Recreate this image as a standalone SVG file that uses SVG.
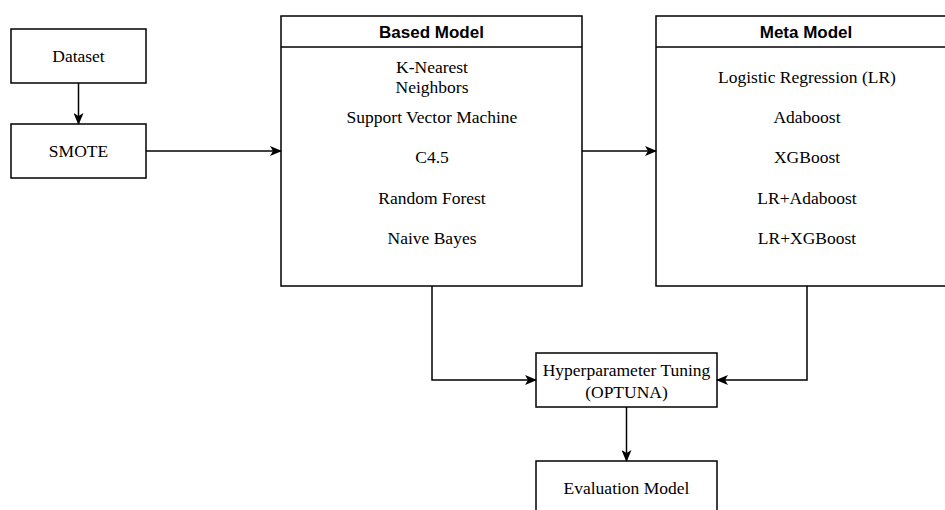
<svg xmlns="http://www.w3.org/2000/svg" width="945" height="510" viewBox="0 0 945 510">
<style>
.box{fill:#fff;stroke:#000;stroke-width:1.5}
.t{font-family:"Liberation Serif","Times New Roman",serif;font-size:17.5px;fill:#000;text-anchor:middle}
.h{font-family:"Liberation Sans",Arial,sans-serif;font-size:17px;font-weight:bold;fill:#000;text-anchor:middle}
.c{fill:none;stroke:#000;stroke-width:1.5}
</style>
<defs>
<marker id="arr" viewBox="0 0 12 10" refX="11" refY="5" markerWidth="12" markerHeight="10" markerUnits="userSpaceOnUse" orient="auto">
<path d="M0,0 L12,5 L0,10 L3,5 Z" fill="#000"/>
</marker>
</defs>
<rect width="945" height="510" fill="#fff"/>
<g id="dataset"><rect class="box" x="11" y="29" width="135" height="54"/><text class="t" x="78.5" y="62">Dataset</text></g>
<g id="smote"><rect class="box" x="11" y="124" width="135" height="54"/><text class="t" x="78.5" y="157">SMOTE</text></g>
<g id="based">
<rect class="box" x="281" y="16" width="301" height="270"/>
<line class="c" x1="281" y1="47" x2="582" y2="47"/>
<text class="h" x="431.5" y="38">Based Model</text>
<text class="t" x="432" y="73">K-Nearest</text>
<text class="t" x="432" y="93">Neighbors</text>
<text class="t" x="432" y="123">Support Vector Machine</text>
<text class="t" x="432" y="163">C4.5</text>
<text class="t" x="432" y="204">Random Forest</text>
<text class="t" x="432" y="244">Naive Bayes</text>
</g>
<g id="meta">
<rect class="box" x="656" y="16" width="302" height="270"/>
<line class="c" x1="656" y1="47" x2="958" y2="47"/>
<text class="h" x="806" y="38">Meta Model</text>
<text class="t" x="807" y="83">Logistic Regression (LR)</text>
<text class="t" x="807" y="123">Adaboost</text>
<text class="t" x="807" y="163">XGBoost</text>
<text class="t" x="807" y="204">LR+Adaboost</text>
<text class="t" x="807" y="244">LR+XGBoost</text>
</g>
<g id="hyper"><rect class="box" x="536" y="353" width="181" height="54"/><text class="t" x="626.5" y="376">Hyperparameter Tuning</text><text class="t" x="626.5" y="398">(OPTUNA)</text></g>
<g id="eval"><rect class="box" x="536" y="461" width="181" height="60"/><text class="t" x="626.5" y="494">Evaluation Model</text></g>
<g id="connectors">
<line class="c" x1="78.5" y1="83" x2="78.5" y2="124" marker-end="url(#arr)"/>
<line class="c" x1="146" y1="151" x2="281" y2="151" marker-end="url(#arr)"/>
<line class="c" x1="582" y1="151" x2="656" y2="151" marker-end="url(#arr)"/>
<polyline class="c" points="432,286 432,380 536,380" marker-end="url(#arr)"/>
<polyline class="c" points="807,286 807,380 717,380" marker-end="url(#arr)"/>
<line class="c" x1="626.5" y1="407" x2="626.5" y2="461" marker-end="url(#arr)"/>
</g>
</svg>
